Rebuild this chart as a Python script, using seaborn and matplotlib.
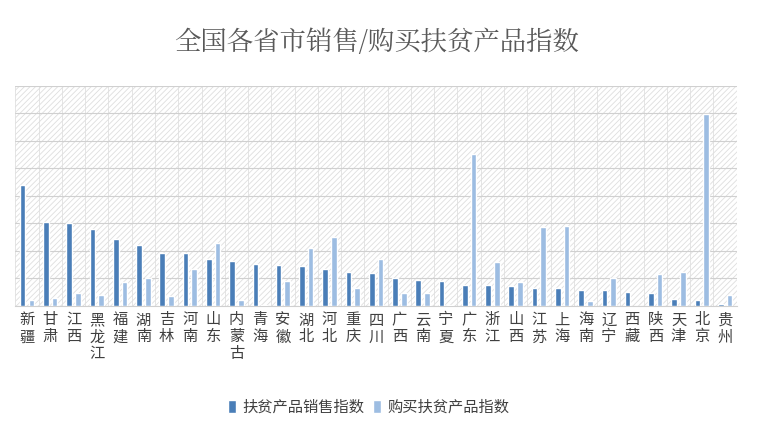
import pandas as pd
import numpy as np
import matplotlib.pyplot as plt
import seaborn as sns

provinces = ["新疆", "甘肃", "江西", "黑龙江", "福建", "湖南", "吉林", "河南", "山东", "内蒙古",
             "青海", "安徽", "湖北", "河北", "重庆", "四川", "广西", "云南", "宁夏", "广东",
             "浙江", "山西", "江苏", "上海", "海南", "辽宁", "西藏", "陕西", "天津", "北京", "贵州"]
sales = [4.4, 3.05, 3.0, 2.8, 2.44, 2.2, 1.93, 1.93, 1.7, 1.64,
         1.53, 1.5, 1.45, 1.35, 1.24, 1.2, 1.0, 0.95, 0.9, 0.76,
         0.76, 0.73, 0.65, 0.65, 0.58, 0.58, 0.5, 0.47, 0.25, 0.22, 0.07]
buy = [0.2, 0.3, 0.47, 0.4, 0.87, 1.0, 0.36, 1.35, 2.3, 0.22,
       0.04, 0.9, 2.1, 2.5, 0.65, 1.7, 0.47, 0.47, 0.04, 5.5,
       1.6, 0.87, 2.87, 2.9, 0.18, 1.0, 0.0, 1.16, 1.24, 6.95, 0.4]
series = ["扶贫产品销售指数", "购买扶贫产品指数"]

df = pd.DataFrame({"省份": provinces * 2,
                   "指数": sales + buy,
                   "类型": [series[0]] * len(provinces) + [series[1]] * len(provinces)})

sns.set_style("white")
plt.rcParams['font.family'] = ['Noto Sans CJK SC', 'DejaVu Sans']
plt.rcParams['hatch.color'] = '#dedede'
plt.rcParams['hatch.linewidth'] = 0.6

fig = plt.figure(figsize=(7.69, 4.32), dpi=100)
ax = fig.add_axes([0.02, 0.292, 0.938, 0.51])
ax.add_patch(plt.Rectangle((0, 0), 1, 1, transform=ax.transAxes, facecolor='white',
                           hatch='//////', edgecolor='#dedede', lw=0, zorder=0))
sns.barplot(data=df, x="省份", y="指数", hue="类型", palette=["#4a7eb8", "#9dbde2"],
            saturation=1, width=0.75, gap=0.35, ax=ax, zorder=3)
ax.set_ylim(0, 8)
ax.set_yticks(np.arange(0, 9))
ax.yaxis.grid(True, color='#d0d0d0', lw=0.8, zorder=1)
ax.set_xticks(np.arange(-0.5, len(provinces)), minor=True)
ax.xaxis.grid(True, which='minor', color='#e0e0e0', lw=0.6, zorder=1)
ax.set_axisbelow(True)
ax.tick_params(axis='y', left=False, labelleft=False)
ax.tick_params(axis='x', which='both', length=0, pad=4)
ax.set_xticks(range(len(provinces)))
ax.set_xticklabels(["\n".join(p) for p in provinces], fontsize=11, color='#404040',
                   linespacing=1.0, va='top')
ax.set_xlim(-0.5, len(provinces) - 0.5)
ax.set_xlabel("")
ax.set_ylabel("")
for s in ['top', 'right', 'left']:
    ax.spines[s].set_visible(False)
ax.spines['bottom'].set_color('#d0d0d0')

ax.legend(loc='upper center', bbox_to_anchor=(0.49, -0.36), ncol=2, frameon=False,
          fontsize=11, handlelength=0.5, handleheight=0.9, handletextpad=0.4,
          columnspacing=0.6, labelcolor='#404040')
fig.text(0.49, 0.9, "全国各省市销售/购买扶贫产品指数", ha='center', va='center',
         fontsize=19, color='#595959', family=['Noto Serif CJK SC', 'Noto Sans CJK SC'])

fig.savefig("out.png", dpi=100)
